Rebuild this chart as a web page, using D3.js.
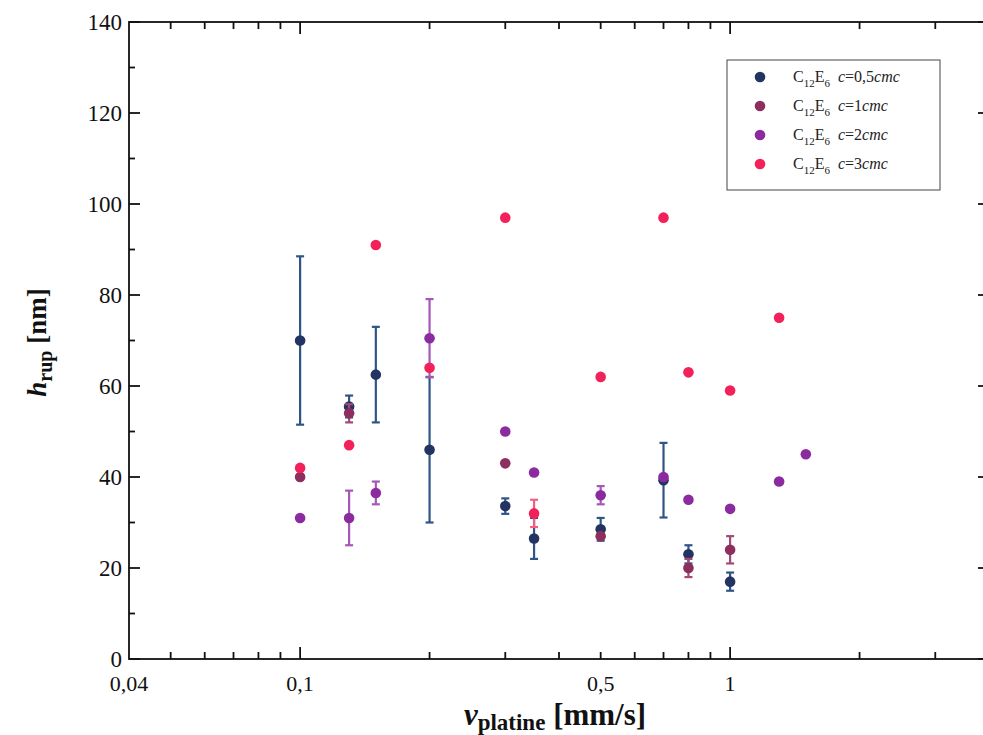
<!DOCTYPE html>
<html><head><meta charset="utf-8">
<script src="https://cdn.jsdelivr.net/npm/d3@7"></script>
<style>body{margin:0;background:#fff}svg{display:block}</style>
</head><body><div id="chart"></div>
<script>
// ---- data ----
const seriesNames = ["0,5", "1", "2", "3"];
const seriesColors = ["#233463", "#8c2f5e", "#8b2b9f", "#f2215a"];
const barColors = ["#2f5587", "#a04a77", "#a558b8", "#f0607f"];

const navyX   = [0.1, 0.13, 0.15, 0.2, 0.3, 0.35, 0.5, 0.7, 0.8, 1.0];
const navyY   = [70, 55.5, 62.5, 46, 33.6, 26.5, 28.5, 39.3, 23, 17];
const navyErr = [18.5, 2.4, 10.5, 16, 1.7, 4.5, 2.5, 8.2, 2, 2];

const maroonX   = [0.1, 0.13, 0.3, 0.5, 0.8, 1.0];
const maroonY   = [40, 54, 43, 27, 20, 24];
const maroonErr = [0, 2, 0, 0, 2, 3];

const purpleX   = [0.1, 0.13, 0.15, 0.2, 0.3, 0.35, 0.5, 0.7, 0.8, 1.0, 1.3, 1.5];
const purpleY   = [31, 31, 36.5, 70.5, 50, 41, 36, 40, 35, 33, 39, 45];
const purpleErr = [0, 6, 2.5, 8.6, 0, 0, 2, 0, 0, 0, 0, 0];

const redX   = [0.1, 0.13, 0.15, 0.2, 0.3, 0.35, 0.5, 0.7, 0.8, 1.0, 1.3];
const redY   = [42, 47, 91, 64, 97, 32, 62, 97, 63, 59, 75];
const redErr = [0, 0, 0, 0, 0, 3, 0, 0, 0, 0, 0];

const yTicks = [0, 20, 40, 60, 80, 100, 120, 140];
const yMinor = [10, 30, 50, 70, 90, 110, 130];
const xLabelTicks = [0.04, 0.1, 0.5, 1, 4];
const xLabelText = ["0,04", "0,1", "0,5", "1", "4"];
const xMajor = [0.1, 1];
const xMinor = [0.05,0.06,0.07,0.08,0.09,0.2,0.3,0.4,0.5,0.6,0.7,0.8,0.9,2,3];

// ---- build ----
const FONT = "'Liberation Serif', 'DejaVu Serif', 'Times New Roman', serif";
const W = 983, H = 735;
const svg = d3.select("#chart").append("svg").attr("width", W).attr("height", H)
  .attr("font-family", FONT).style("font-family", FONT);
const x = d3.scaleLog().domain([0.04, 4]).range([129, 989]);
const y = d3.scaleLinear().domain([0, 140]).range([659, 22]);
const x0 = x.range()[0], x1 = x.range()[1], y0 = y.range()[0], y1 = y.range()[1];

const ax = svg.append("g").attr("stroke", "#111").attr("stroke-width", 1.8);
ax.append("rect").attr("x", x0).attr("y", y1).attr("width", x1 - x0).attr("height", y0 - y1).attr("fill", "none");
xMajor.forEach(v => {
  ax.append("line").attr("x1", x(v)).attr("x2", x(v)).attr("y1", y0).attr("y2", y0 - 12);
  ax.append("line").attr("x1", x(v)).attr("x2", x(v)).attr("y1", y1).attr("y2", y1 + 12);
});
xMinor.forEach(v => {
  ax.append("line").attr("x1", x(v)).attr("x2", x(v)).attr("y1", y0).attr("y2", y0 - 7);
  ax.append("line").attr("x1", x(v)).attr("x2", x(v)).attr("y1", y1).attr("y2", y1 + 7);
});
yTicks.forEach(v => {
  ax.append("line").attr("x1", x0).attr("x2", x0 + 11).attr("y1", y(v)).attr("y2", y(v));
  ax.append("line").attr("x1", x1).attr("x2", x1 - 11).attr("y1", y(v)).attr("y2", y(v));
});
yMinor.forEach(v => {
  ax.append("line").attr("x1", x0).attr("x2", x0 + 6).attr("y1", y(v)).attr("y2", y(v));
  ax.append("line").attr("x1", x1).attr("x2", x1 - 6).attr("y1", y(v)).attr("y2", y(v));
});
svg.append("g").selectAll("text").data(yTicks).join("text")
  .attr("x", x0 - 7).attr("y", d => y(d)).attr("dy", "0.33em")
  .attr("text-anchor", "end").attr("font-size", 23).attr("fill", "#111").text(d => d);
svg.append("g").selectAll("text").data(xLabelTicks).join("text")
  .attr("x", d => x(d)).attr("y", y0 + 32)
  .attr("text-anchor", "middle").attr("font-size", 22).attr("fill", "#111").text((d, i) => xLabelText[i]);

const yt = svg.append("text").attr("transform", `translate(46,${(y0 + y1) / 2 + 2}) rotate(-90)`)
  .attr("text-anchor", "middle").attr("font-size", 27).attr("font-weight", "bold").attr("fill", "#111");
yt.append("tspan").attr("font-style", "italic").text("h");
yt.append("tspan").attr("font-size", 20).attr("dy", 6).text("rup");
yt.append("tspan").attr("dy", -6).text(" [nm]");
const xt = svg.append("text").attr("x", 555).attr("y", 725)
  .attr("text-anchor", "middle").attr("font-size", 31).attr("font-weight", "bold").attr("fill", "#111");
xt.append("tspan").attr("font-style", "italic").text("v");
xt.append("tspan").attr("font-size", 23).attr("dy", 5).text("platine");
xt.append("tspan").attr("dy", -5).text(" [mm/s]");

const series = [
  {xs: navyX, ys: navyY, es: navyErr},
  {xs: maroonX, ys: maroonY, es: maroonErr},
  {xs: purpleX, ys: purpleY, es: purpleErr},
  {xs: redX, ys: redY, es: redErr}
];
series.forEach((s, k) => {
  const pts = s.xs.map((xv, i) => ({x: xv, y: s.ys[i], e: s.es[i]}));
  const g = svg.append("g");
  const eb = g.append("g").attr("stroke", barColors[k]).attr("stroke-width", 2.2);
  pts.filter(p => p.e > 0).forEach(p => {
    const cx = x(p.x);
    eb.append("line").attr("x1", cx).attr("x2", cx).attr("y1", y(p.y - p.e)).attr("y2", y(p.y + p.e));
    eb.append("line").attr("x1", cx - 4).attr("x2", cx + 4).attr("y1", y(p.y - p.e)).attr("y2", y(p.y - p.e));
    eb.append("line").attr("x1", cx - 4).attr("x2", cx + 4).attr("y1", y(p.y + p.e)).attr("y2", y(p.y + p.e));
  });
  g.selectAll("circle").data(pts).join("circle")
    .attr("cx", d => x(d.x)).attr("cy", d => y(d.y)).attr("r", 5.3).attr("fill", seriesColors[k]);
});

const lg = svg.append("g");
lg.append("rect").attr("x", 727).attr("y", 60).attr("width", 213).attr("height", 130)
  .attr("fill", "#fff").attr("stroke", "#444").attr("stroke-width", 1);
seriesNames.forEach((n, i) => {
  const yy = 77 + i * 29;
  lg.append("circle").attr("cx", 760).attr("cy", yy).attr("r", 5.3).attr("fill", seriesColors[i]);
  const t = lg.append("text").attr("x", 793).attr("y", yy + 5).attr("font-size", 16).attr("fill", "#222");
  t.append("tspan").text("C");
  t.append("tspan").attr("font-size", 11).attr("dy", 5).text("12");
  t.append("tspan").attr("dy", -5).text("E");
  t.append("tspan").attr("font-size", 11).attr("dy", 5).text("6");
  t.append("tspan").attr("dy", -5).attr("font-style", "italic").text("\u00a0 c");
  t.append("tspan").text("=" + n);
  t.append("tspan").attr("font-style", "italic").text("cmc");
});
</script></body></html>
